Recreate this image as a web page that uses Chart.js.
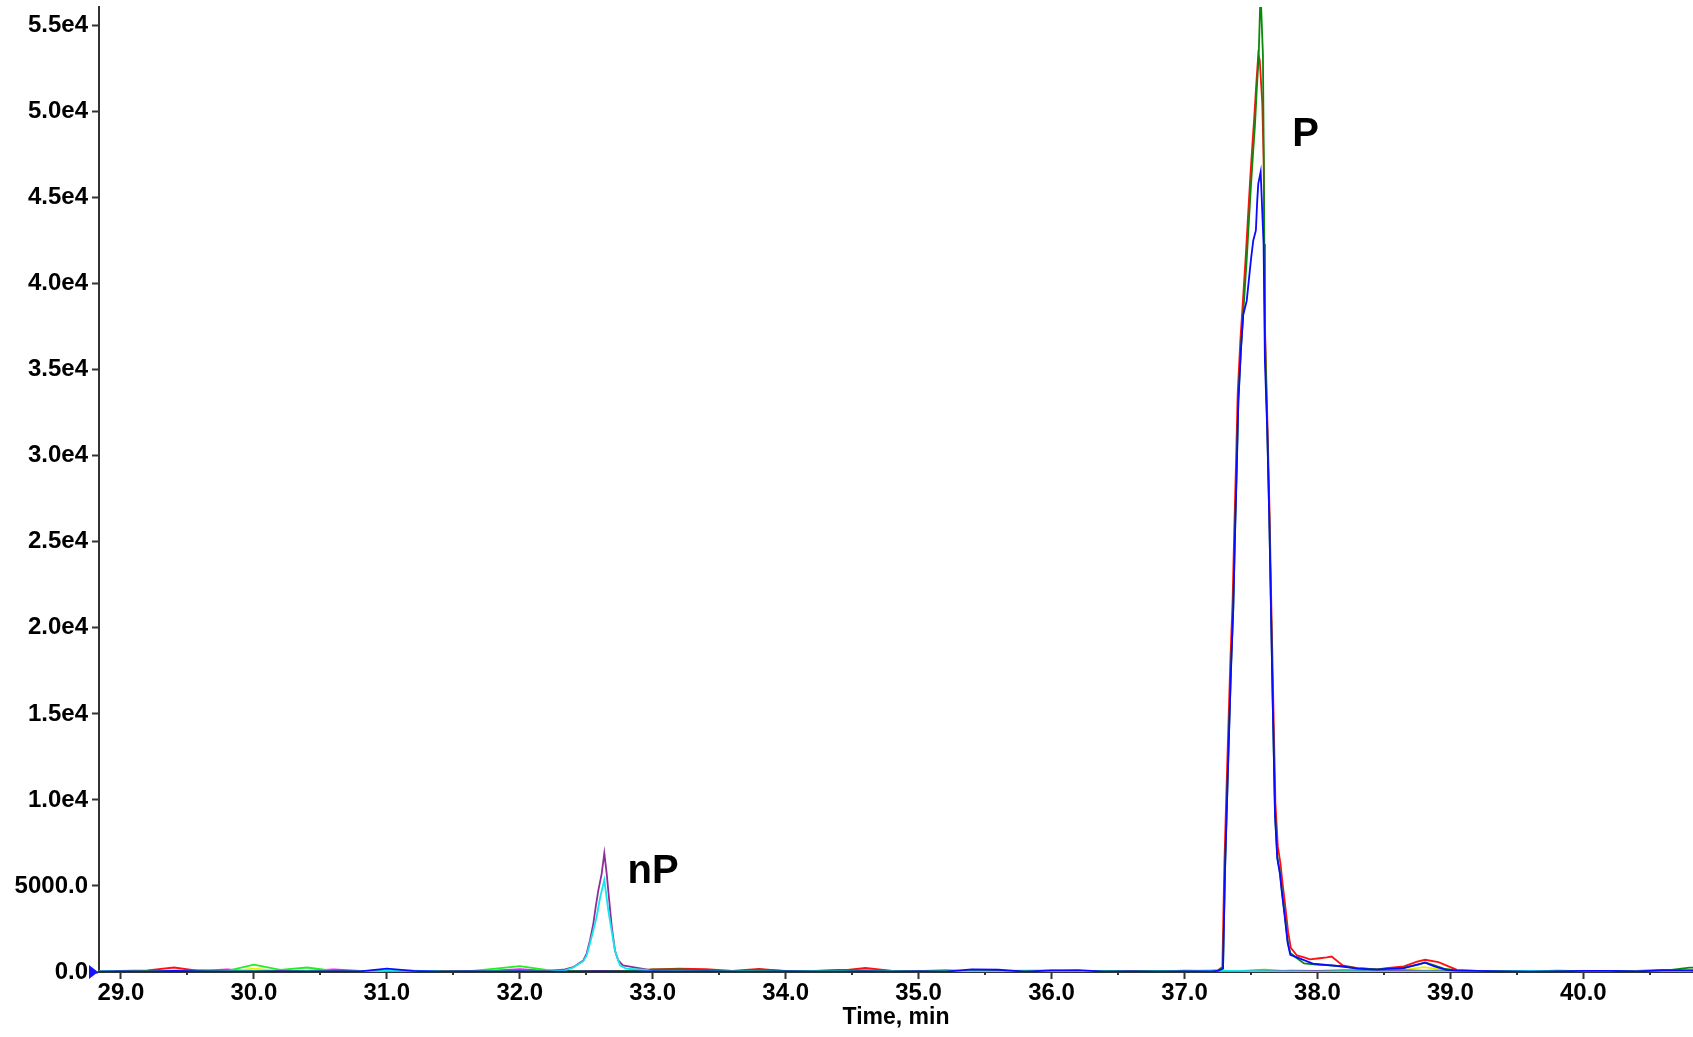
<!DOCTYPE html>
<html>
<head>
<meta charset="utf-8">
<script src="https://cdn.jsdelivr.net/npm/chart.js@4.4.1/dist/chart.umd.min.js"></script>
<style>
html,body{margin:0;padding:0;background:#fff;}
canvas{display:block;}
</style>
</head>
<body>
<canvas id="c" width="1693" height="1037"></canvas>
<script>
// ---------- DATA ----------
const xTitle = 'Time, min';
const peakLabels = ['nP', 'P'];
const labelTimes = [32.81, 37.81];
const labelValues = [5200, 48000];

const xTickValues = [29, 30, 31, 32, 33, 34, 35, 36, 37, 38, 39, 40];
const yTickValues = [0, 5000, 10000, 15000, 20000, 25000, 30000, 35000, 40000, 45000, 50000, 55000];

// baseline sampling grid (min)
const baseTimes = [28.8, 29.0, 29.2, 29.4, 29.6, 29.8, 30.0, 30.2, 30.4, 30.6,
  30.8, 31.0, 31.2, 31.4, 31.6, 31.8, 32.0, 32.2, 32.4, 32.6,
  32.8, 33.0, 33.2, 33.4, 33.6, 33.8, 34.0, 34.2, 34.4, 34.6,
  34.8, 35.0, 35.2, 35.4, 35.6, 35.8, 36.0, 36.2, 36.4, 36.6,
  36.8, 37.0, 37.2, 37.4, 37.6, 37.8, 38.0, 38.2, 38.4, 38.6,
  38.8, 39.0, 39.2, 39.4, 39.6, 39.8, 40.0, 40.2, 40.4, 40.6,
  40.8, 41.0];

const redBase = [30, 70, 90, 260, 50, 30, 40, 60, 30, 50,
  40, 30, 20, 40, 30, 50, 60, 40, 30, 60,
  70, 150, 190, 160, 60, 180, 50, 40, 70, 240,
  60, 40, 30, 60, 40, 30, 70, 40, 30, 50,
  40, 80, 60, null, null, null, null, null, null, null,
  null, null, 70, 40, 30, 60, 40, 30, 70, 120,
  60, 40];
const greenBase = [40, 30, 50, 40, 60, 30, 60, 40, 50, 30,
  40, 60, 30, 40, 30, 50, 40, 30, 50, 40,
  60, 140, 150, 90, 40, 130, 70, 50, 120, 60,
  50, 40, 60, 50, 40, 60, 50, 40, 70, 40,
  60, 50, 40, null, null, null, null, null, null, null,
  null, null, 60, 50, 40, 80, 50, 60, 40, 70,
  250, 300];
const blueBase = [20, 30, 20, 60, 30, 20, 20, 30, 20, 30,
  40, 200, 60, 20, 30, 20, 30, 20, 20, 30,
  20, 30, 20, 30, 20, 20, 30, 20, 20, 30,
  20, 30, 20, 150, 130, 20, 90, 110, 20, 30,
  20, 30, 40, null, null, null, null, null, null, null,
  null, null, 60, 40, 20, 30, 70, 60, 30, 100,
  90, 60];
const limeBase = [30, 40, 60, 40, 80, 60, 430, 120, 260, 60,
  40, 60, 30, 50, 40, 180, 340, 120, 40, 60,
  40, 130, 110, 60, 40, 80, 50, 60, 110, 150,
  70, 50, 120, 40, 60, 80, 100, 40, 60, 50,
  60, 40, 90, 50, 130, 40, 60, 120, 110, 60,
  80, 90, 50, 70, 40, 60, 40, 60, 50, 60,
  90, 140];
const yellowBase = [10, 20, 30, 10, 40, 20, 200, 60, 20, 10,
  20, 10, 30, 20, 10, 30, 60, 20, 10, 20,
  10, 50, 30, 10, 20, 30, 10, 20, 10, 20,
  30, 10, 20, 10, 40, 20, 10, 30, 20, 10,
  20, 30, 40, 60, 20, 30, 40, 20, 30, 60,
  280, 60, 20, 30, 40, 20, 10, 30, 20, 40,
  80, 60];
const magentaBase = [20, 40, 30, 80, 60, 150, 40, 30, 60, 150,
  60, 30, 40, 20, 30, 80, 170, 60, 30, 40,
  30, 60, 150, 90, 30, 40, 20, 50, 30, 40,
  30, 20, 40, 30, 20, 40, 30, 20, 30, 40,
  30, 20, 40, 30, 20, 60, 70, 40, 30, 40,
  60, 40, 30, 20, 40, 30, 20, 30, 40, 30,
  20, 30];
const purpleBase = [30, 20, 40, 60, 90, 40, 30, 20, 30, 50,
  30, 20, 40, 30, 20, 30, 40, 30, null, null,
  null, 50, 120, 80, 40, 30, 20, 30, 40, 30,
  20, 30, 40, 20, 30, 40, 20, 30, 40, 30,
  20, 30, 40, 60, 30, 80, 60, 40, 60, 110,
  60, 40, 30, 20, 40, 30, 20, 30, 40, 80,
  50, 40];
const cyanBase = [50, 30, 20, 40, 20, 30, 40, 20, 30, 20,
  30, 60, 80, 30, 20, 40, 30, 20, null, null,
  null, 40, 30, 20, 40, 30, 20, 30, 40, 20,
  30, 20, 40, 30, 20, 30, 60, 40, 30, 20,
  30, 40, 60, 70, 40, 30, 20, 40, 30, 20,
  30, 20, 40, 30, 60, 40, 30, 20, 40, 30,
  20, 30];

// peak P (37.2 - 39.1 min)
const redPeakTimes = [37.25, 37.285, 37.30, 37.315, 37.33, 37.345, 37.362, 37.375, 37.388, 37.40,
  37.42, 37.438, 37.463, 37.48, 37.495, 37.51, 37.525, 37.54, 37.555, 37.566,
  37.585, 37.596, 37.60, 37.607, 37.624, 37.64, 37.652, 37.666, 37.684, 37.702,
  37.722, 37.737, 37.757, 37.78, 37.80, 37.846, 37.90, 37.944, 38.017, 38.07,
  38.107, 38.19, 38.30, 38.45, 38.52, 38.65, 38.75, 38.81, 38.91, 39.00, 39.05];
const redPeakValues = [90, 300, 6300, 10400, 14300, 18100, 21600, 25900, 29700, 33600,
  36700, 38800, 41900, 44200, 46200, 48000, 49700, 51600, 53300, 53000,
  50500, 47000, 42000, 37000, 31900, 26700, 21800, 16500, 9800, 7300,
  6300, 5200, 3900, 2300, 1400, 960, 850, 730, 800, 850,
  900, 380, 220, 150, 220, 330, 600, 710, 570, 280, 120];
const greenPeakTimes = [37.25, 37.29, 37.305, 37.32, 37.335, 37.35, 37.367, 37.38, 37.393, 37.405,
  37.425, 37.442, 37.468, 37.485, 37.50, 37.515, 37.53, 37.543, 37.558, 37.565,
  37.572, 37.59, 37.596, 37.60, 37.605, 37.622, 37.638, 37.65, 37.663, 37.681,
  37.698, 37.718, 37.733, 37.753, 37.776, 37.796, 37.846, 37.90, 37.97, 38.02,
  38.10, 38.19, 38.30, 38.45, 38.52, 38.65, 38.75, 38.81, 38.88, 38.95, 39.05];
const greenPeakValues = [80, 250, 6000, 10000, 13900, 17700, 21200, 25500, 29300, 33200,
  36300, 38300, 41400, 43700, 45700, 47500, 49200, 51200, 53200, 55100,
  57000, 53300, 47800, 42300, 37100, 31700, 26400, 21400, 16000, 9200,
  6700, 5800, 4700, 3400, 1800, 1100, 800, 500, 450, 420,
  380, 330, 220, 150, 200, 250, 420, 560, 380, 200, 100];
const bluePeakTimes = [37.25, 37.29, 37.305, 37.32, 37.335, 37.35, 37.367, 37.38, 37.393, 37.405,
  37.425, 37.442, 37.468, 37.50, 37.517, 37.537, 37.547, 37.555, 37.573, 37.585,
  37.595, 37.605, 37.622, 37.638, 37.65, 37.663, 37.681, 37.698, 37.718, 37.733,
  37.753, 37.776, 37.796, 37.846, 37.966, 38.19, 38.30, 38.45, 38.52, 38.65,
  38.75, 38.81, 38.88, 38.97, 39.05];
const bluePeakValues = [60, 200, 5900, 9900, 13800, 17600, 21100, 25400, 29200, 33100,
  36200, 38200, 39000, 41400, 42500, 43100, 44800, 45800, 46500, 44200,
  42300, 35500, 31600, 26300, 21300, 15900, 9100, 6600, 5700, 4600,
  3300, 1700, 1000, 850, 490, 320, 200, 140, 180, 230,
  430, 540, 330, 120, 80];

// peak nP (32.3 - 32.96 min)
const purplePeakTimes = [32.34, 32.402, 32.478, 32.503, 32.528, 32.553, 32.571, 32.59, 32.616, 32.636,
  32.654, 32.673, 32.691, 32.716, 32.741, 32.776, 32.851, 32.95];
const purplePeakValues = [150, 280, 670, 1070, 1830, 2800, 3770, 4700, 5700, 6900,
  5700, 4150, 2700, 1250, 670, 380, 280, 150];
const cyanPeakTimes = [32.34, 32.402, 32.478, 32.503, 32.528, 32.553, 32.578, 32.603, 32.636, 32.666,
  32.691, 32.716, 32.754, 32.80, 32.95];
const cyanPeakValues = [100, 260, 630, 960, 1660, 2410, 3190, 4270, 5360, 3570,
  2410, 1250, 380, 200, 120];

// ---------- BUILD ----------
function buildPoints(base, peakT, peakV, lo, hi) {
  const pts = [];
  baseTimes.forEach((t, i) => {
    if (base[i] === null) return;
    if (peakT && t >= lo && t <= hi) return;
    pts.push({x: t, y: base[i]});
  });
  if (peakT) peakT.forEach((t, i) => pts.push({x: t, y: peakV[i]}));
  pts.sort((a, b) => a.x - b.x);
  return pts;
}

const FONT = '"Liberation Sans", Arial, Helvetica, sans-serif';
function ds(label, color, pts) {
  return {label, data: pts, borderColor: color, backgroundColor: color,
    borderWidth: 1.8, pointRadius: 0, tension: 0, fill: false};
}

const datasets = [
  ds('blue', '#0a0aff', buildPoints(blueBase, bluePeakTimes, bluePeakValues, 37.22, 39.1)),
  ds('cyan', '#14e6ee', buildPoints(cyanBase, cyanPeakTimes, cyanPeakValues, 32.3, 32.96)),
  ds('green', '#0a8a0a', buildPoints(greenBase, greenPeakTimes, greenPeakValues, 37.22, 39.1)),
  ds('red', '#ff1010', buildPoints(redBase, redPeakTimes, redPeakValues, 37.22, 39.1)),
  ds('purple', '#8e2e9a', buildPoints(purpleBase, purplePeakTimes, purplePeakValues, 32.3, 32.96)),
  ds('lime', '#22ee22', buildPoints(limeBase)),
  ds('yellow', '#eeee00', buildPoints(yellowBase)),
  ds('magenta', '#ff10ff', buildPoints(magentaBase))
];

const decor = {
  id: 'decor',
  afterDraw(chart) {
    const {ctx, chartArea: a, scales: {x, y}} = chart;
    ctx.save();
    // minor x ticks at half minutes
    ctx.strokeStyle = '#333';
    ctx.lineWidth = 2;
    xTickValues.forEach(v => {
      const px = Math.round(x.getPixelForValue(v + 0.5));
      if (px > a.right) return;
      ctx.beginPath(); ctx.moveTo(px, a.bottom); ctx.lineTo(px, a.bottom + 3); ctx.stroke();
    });
    // origin marker
    const ty = y.getPixelForValue(0);
    ctx.fillStyle = '#1414ff';
    ctx.beginPath();
    ctx.moveTo(a.left - 10, ty - 7);
    ctx.lineTo(a.left - 10, ty + 7);
    ctx.lineTo(a.left - 1, ty);
    ctx.closePath();
    ctx.fill();
    // peak labels
    ctx.fillStyle = '#000';
    ctx.font = 'bold 40px ' + FONT;
    ctx.textAlign = 'left';
    ctx.textBaseline = 'alphabetic';
    peakLabels.forEach((s, i) => ctx.fillText(s, x.getPixelForValue(labelTimes[i]), y.getPixelForValue(labelValues[i])));
    // x axis title
    ctx.font = 'bold 23px ' + FONT;
    ctx.textAlign = 'center';
    ctx.fillText(xTitle, (a.left + a.right) / 2, a.bottom + 52);
    ctx.restore();
  }
};

function yFmt(v) {
  if (v === 0) return '0.0';
  if (v < 10000) return v.toFixed(1);
  return (v / 10000).toFixed(1) + 'e4';
}

new Chart(document.getElementById('c'), {
  type: 'line',
  data: {datasets},
  options: {
    responsive: false,
    animation: false,
    devicePixelRatio: 1,
    layout: {padding: {top: 7, right: 0, left: 0, bottom: 0}},
    plugins: {legend: {display: false}, tooltip: {enabled: false}},
    scales: {
      x: {
        type: 'linear',
        min: 28.835,
        max: 40.825,
        border: {color: '#333', width: 2},
        grid: {drawOnChartArea: false, tickLength: 7, tickWidth: 2, tickColor: '#333'},
        ticks: {autoSkip: false, maxRotation: 0, padding: 0,
          color: '#000', font: {family: FONT, size: 24, weight: 'bold'},
          callback: v => Number(v).toFixed(1)},
        afterBuildTicks(s) { s.ticks = xTickValues.map(v => ({value: v})); },
        afterFit(s) { s.height = 65; s.paddingLeft = 0; s.paddingRight = 0; }
      },
      y: {
        type: 'linear',
        min: 0,
        max: 56080,
        border: {color: '#333', width: 2},
        grid: {drawOnChartArea: false, tickLength: 7, tickWidth: 2, tickColor: '#333'},
        ticks: {autoSkip: false, padding: 4,
          color: '#000', font: {family: FONT, size: 24, weight: 'bold'},
          callback: v => yFmt(v)},
        afterBuildTicks(s) { s.ticks = yTickValues.map(v => ({value: v})); },
        afterFit(s) { s.width = 99; s.paddingTop = 0; s.paddingBottom = 0; }
      }
    }
  },
  plugins: [decor]
});
</script>
</body>
</html>
